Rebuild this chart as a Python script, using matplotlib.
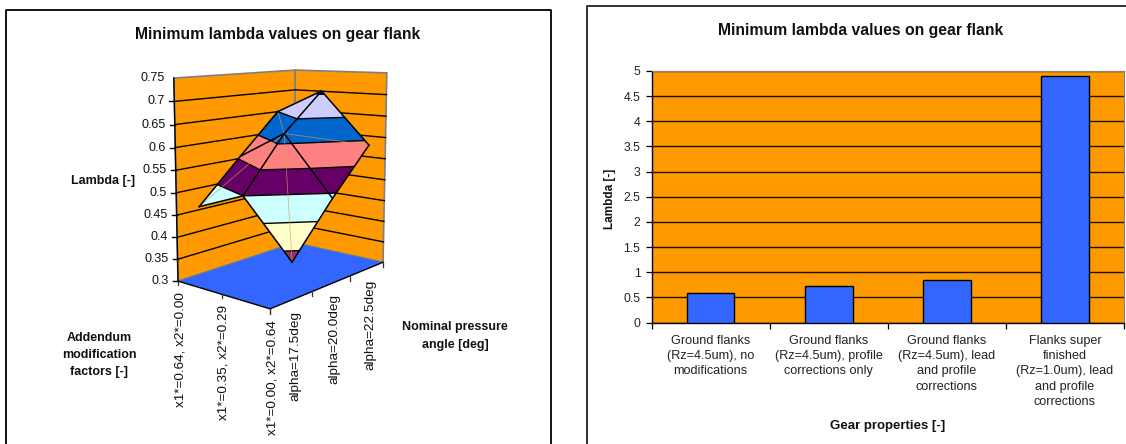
import numpy as np
import matplotlib
matplotlib.use('Agg')
import matplotlib.pyplot as plt
from matplotlib.patches import Polygon

plt.rcParams['font.family'] = ['Liberation Sans', 'DejaVu Sans']

# left chart data
x_cats = ['x1*=0.00, x2*=0.64', 'x1*=0.35, x2*=0.29', 'x1*=0.64, x2*=0.00']
alpha_cats = ['alpha=17.5deg', 'alpha=20.0deg', 'alpha=22.5deg']
z_ticks = [0.3, 0.35, 0.4, 0.45, 0.5, 0.55, 0.6, 0.65, 0.7, 0.75]
z_tick_labels = ['0.3', '0.35', '0.4', '0.45', '0.5', '0.55', '0.6', '0.65', '0.7', '0.75']
lam_row0 = [0.38, 0.49, 0.59]
lam_row1 = [0.50, 0.62, 0.707]
lam_row2 = [0.457, 0.555, 0.65]
band_colors = ['#993366', '#FFFFCC', '#CCFFFF', '#660066', '#FF8080', '#0066CC', '#CCCCFF', '#000080']

# right chart data
bar_labels = ['Ground flanks\n(Rz=4.5um), no\nmodifications',
              'Ground flanks\n(Rz=4.5um), profile\ncorrections only',
              'Ground flanks\n(Rz=4.5um), lead\nand profile\ncorrections',
              'Flanks super\nfinished\n(Rz=1.0um), lead\nand profile\ncorrections']
bar_values = [0.58, 0.72, 0.85, 4.9]
bar_ticks = [0, 0.5, 1, 1.5, 2, 2.5, 3, 3.5, 4, 4.5, 5]
bar_tick_labels = ['0', '0.5', '1', '1.5', '2', '2.5', '3', '3.5', '4', '4.5', '5']

W, H = 1126, 444
ORANGE = '#FF9900'
BLUE = '#3366FF'
TXT = '#111111'

# camera for the fake 3d box: box corners (u, v, z) -> pixels
box = [(0, 0, 0.3, 270, 309), (1, 0, 0.3, 383, 262), (0, 1, 0.3, 178, 281),
       (1, 1, 0.3, 295, 243), (0, 1, 0.75, 174, 78), (1, 1, 0.75, 295, 70),
       (1, 0, 0.75, 387, 73)]
rows = []
for u, v, z, px, py in box:
    rows.append([u, v, z, 1, 0, 0, 0, 0, -px*u, -px*v, -px*z, -px])
    rows.append([0, 0, 0, 0, u, v, z, 1, -py*u, -py*v, -py*z, -py])
cam = np.linalg.svd(np.array(rows, dtype=float))[2][-1].reshape(3, 4)


def project(u, v, z):
    p = cam @ np.array([u, v, z, np.ones_like(z)], dtype=float)
    return p[0] / p[2], p[1] / p[2]


fig = plt.figure(figsize=(W/100, H/100), dpi=100)
bg = fig.add_axes([0, 0, 1, 1])
bg.set_xlim(0, W)
bg.set_ylim(H, 0)
bg.axis('off')

# chart frames, cut by the picture edge
bg.plot([6, 6, 551, 551], [H+5, 10, 10, H+5], color='black', lw=1.3)
bg.plot([587, 587, W+5], [H+5, 6.5, 6.5], color='#222222', lw=1.3)

bg.text(278, 34, 'Minimum lambda values on gear flank', ha='center', va='center',
        fontsize=11.3, fontweight='bold', color=TXT)

# walls and floor
zlo, zhi = z_ticks[0], z_ticks[-1]
left_wall = [project(0, 1, zlo), project(1, 1, zlo), project(1, 1, zhi), project(0, 1, zhi)]
right_wall = [project(1, 1, zlo), project(1, 0, zlo), project(1, 0, zhi), project(1, 1, zhi)]
floor = [project(0, 0, zlo), project(1, 0, zlo), project(1, 1, zlo), project(0, 1, zlo)]
for poly in (left_wall, right_wall):
    bg.add_patch(Polygon(poly, closed=True, fc=ORANGE, ec='#808080', lw=1.2, zorder=1))
bg.add_patch(Polygon(floor, closed=True, fc=BLUE, ec='#808080', lw=0.8, ls=':', zorder=1.5))

for z, lab in zip(z_ticks, z_tick_labels):
    if 0.3 < z < 0.75:
        a, b, c = project(0, 1, z), project(1, 1, z), project(1, 0, z)
        bg.plot([a[0], b[0], c[0]], [a[1], b[1], c[1]], color='black', lw=1, zorder=2)
    px, py = project(0, 1, z)
    if z < 0.75:
        bg.plot([px-5, px], [py, py], color='black', lw=1, zorder=2)
    bg.text(px-9, py, lab, ha='right', va='center', fontsize=9, color=TXT)

# z axis and the two floor axes
a, b = project(0, 1, zlo), project(0, 1, zhi)
bg.plot([a[0], b[0]], [a[1], b[1]], color='black', lw=1, zorder=2)
a, b, c = project(0, 1, zlo), project(0, 0, zlo), project(1, 0, zlo)
bg.plot([a[0], b[0], c[0]], [a[1], b[1], c[1]], color='black', lw=1, zorder=2)

for i, lab in enumerate(x_cats):
    v = i / 2
    px, py = project(0, v, zlo)
    bg.plot([px, px], [py, py+4], color='#333333', lw=0.9, zorder=2)
    bg.text(px+2, py+11, lab, rotation=90, ha='center', va='top', fontsize=9.7, color=TXT)
for k in range(4):
    px, py = project(k/3, 0, zlo)
    bg.plot([px, px], [py, py+5], color='#333333', lw=0.9, zorder=2)
for i, lab in enumerate(alpha_cats):
    px, py = project((i+0.5)/3, 0, zlo)
    bg.text(px+3, py+11, lab, rotation=90, ha='center', va='top', fontsize=9.7, color=TXT)

# surface: alpha categories sit mid-bin, x categories sit on the ticks
lam = np.array([lam_row0, lam_row1, lam_row2])
uu, vv = np.meshgrid([(i+0.5)/3 for i in range(3)], [i/2 for i in range(3)])
sx, sy = project(uu.ravel(), vv.ravel(), lam.ravel())
sx = sx.reshape(3, 3)
sy = sy.reshape(3, 3)
levels = np.arange(0.35, 0.7501, 0.05)
bg.contourf(sx, sy, lam, levels=levels, colors=band_colors, zorder=3, antialiased=True)
bg.contour(sx, sy, lam, levels=levels[1:-1], colors='black', linewidths=1, zorder=4)

# faint diagonals, then the mesh
for i, j in [(0, 0), (0, 2), (2, 0), (2, 2)]:
    bg.plot([sx[1, 1], sx[i, j]], [sy[1, 1], sy[i, j]], color='#C8A060', lw=0.6, alpha=0.7, zorder=4)
for i in range(3):
    bg.plot(sx[i, :], sy[i, :], color='black', lw=1.1, zorder=5)
    bg.plot(sx[:, i], sy[:, i], color='black', lw=1.1, zorder=5)

bg.text(103, 181, 'Lambda [-]', ha='center', va='center', fontsize=9, fontweight='bold', color=TXT)
bg.text(99, 355, 'Addendum\nmodification\nfactors [-]', ha='center', va='center', fontsize=9,
        fontweight='bold', color=TXT, linespacing=1.6)
bg.text(455, 336, 'Nominal pressure\nangle [deg]', ha='center', va='center', fontsize=9,
        fontweight='bold', color=TXT, linespacing=1.6)

# right chart
x0, x1, y0, y1 = 651.5, 1124, 71, 322.5
ax = fig.add_axes([x0/W, 1-y1/H, (x1-x0)/W, (y1-y0)/H])
ax.set_facecolor(ORANGE)
pos = np.arange(len(bar_values))
ax.set_axisbelow(True)
ax.yaxis.grid(True, color='#1a1000', lw=1)
ax.bar(pos, bar_values, width=0.405, color=BLUE, edgecolor='black', lw=1, zorder=3)
ax.set_xlim(-0.5, 3.5)
ax.set_ylim(0, 5)
ax.set_yticks(bar_ticks)
ax.set_yticklabels(bar_tick_labels, fontsize=8.8, color='#222222')
ax.set_xticks(np.arange(-0.5, 4))
ax.set_xticklabels([])
ax.set_xticks(pos, minor=True)
ax.set_xticklabels(bar_labels, minor=True, fontsize=9.1, color='#222222', linespacing=1.36)
ax.tick_params(axis='x', which='minor', length=0, pad=9)
ax.tick_params(axis='x', which='major', length=4, width=0.9)
ax.tick_params(axis='y', length=4, width=0.9, pad=4)
for side in ('top', 'right'):
    ax.spines[side].set_color('#808080')
for side in ('left', 'bottom'):
    ax.spines[side].set_linewidth(1)

bg.text(861, 30, 'Minimum lambda values on gear flank', ha='center', va='center',
        fontsize=11.3, fontweight='bold', color=TXT)
bg.text(610, 198.5, 'Lambda [-]', rotation=90, ha='center', va='center', fontsize=8.5,
        fontweight='bold', color=TXT)
bg.text(888, 426, 'Gear properties [-]', ha='center', va='center', fontsize=9.5,
        fontweight='bold', color=TXT)

fig.savefig('out.png', dpi=100, facecolor='white')
